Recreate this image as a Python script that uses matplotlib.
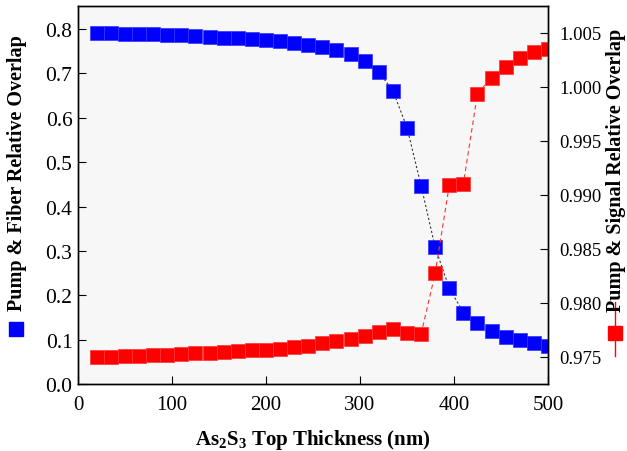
import matplotlib
matplotlib.use('Agg')
import matplotlib.pyplot as plt
from matplotlib.lines import Line2D
import numpy as np

thickness = [20, 35, 50, 65, 80, 95, 110, 125, 140, 155, 170, 185, 200, 215, 230, 245,
             260, 275, 290, 305, 320, 335, 350, 365, 380, 395, 410, 425, 440, 455, 470, 485, 500]
pump_fiber = [0.792, 0.791, 0.790, 0.789, 0.788, 0.787, 0.786, 0.785, 0.783, 0.781, 0.779,
              0.777, 0.775, 0.772, 0.769, 0.765, 0.760, 0.752, 0.743, 0.727, 0.703, 0.661,
              0.578, 0.447, 0.308, 0.216, 0.161, 0.137, 0.120, 0.107, 0.099, 0.092, 0.086]
pump_signal = [0.97494, 0.97497, 0.97502, 0.97507, 0.97512, 0.97518, 0.97524, 0.97530,
               0.97536, 0.97543, 0.97550, 0.97558, 0.97566, 0.97576, 0.97588, 0.97602,
               0.97627, 0.97643, 0.97664, 0.97694, 0.97726, 0.97757, 0.97720, 0.97710,
               0.98275, 0.99090, 0.99105, 0.99939, 1.00087, 1.00189, 1.00272, 1.00328, 1.00356]

plt.rcParams['font.family'] = 'Liberation Serif'
plt.rcParams['mathtext.fontset'] = 'custom'
plt.rcParams['mathtext.rm'] = 'Liberation Serif'
plt.rcParams['mathtext.bf'] = 'Liberation Serif:bold'

fig = plt.figure(figsize=(6.27, 4.52), dpi=100)
ax = fig.add_axes([0.1244, 0.1482, 0.7496, 0.8363])
ax.set_facecolor('#f7f7f7')
ax2 = ax.twinx()

ax.plot(thickness, pump_fiber, color='#333333', ls=(0, (2, 2)), lw=0.8,
        marker='s', ms=10, mfc='#0000ff', mec='#3333ff', mew=0.5, zorder=3)
ax2.plot(thickness, pump_signal, color='#ff3333', ls=(0, (4, 3)), lw=0.8,
         marker='s', ms=10, mfc='#ff0000', mec='#ff3333', mew=0.5)

ax.set_xlim(0, 500)
ax.set_ylim(0, 0.852)
ax2.set_ylim(0.97247, 1.0075)
ax.set_xticks([0, 100, 200, 300, 400, 500])
ax.set_yticks(np.arange(0, 0.81, 0.1))
ax.set_yticklabels(['%.1f' % v for v in np.arange(0, 0.81, 0.1)])
ax2.set_yticks([0.975, 0.980, 0.985, 0.990, 0.995, 1.000, 1.005])
ax2.set_yticklabels(['0.975', '0.980', '0.985', '0.990', '0.995', '1.000', '1.005'])

ax.tick_params(axis='y', direction='in', length=6, labelsize=15.5, pad=4)
ax.tick_params(axis='x', direction='in', length=6, labelsize=15, pad=8)
ax2.tick_params(axis='y', direction='in', length=6, labelsize=13.5, pad=8)
for a in (ax, ax2):
    for s in a.spines.values():
        s.set_linewidth(1.0)

ax.set_xlabel(r'As$_\mathbf{2}$S$_\mathbf{3}$ Top Thickness (nm)', fontsize=15,
              fontweight='bold', labelpad=9)

fig.text(17 / 627, 1 - 173 / 452, 'Pump & Fiber Relative Overlap', rotation=90,
         ha='center', va='center', fontsize=14.5, fontweight='bold')
fig.text(616 / 627, 1 - 170 / 452, 'Pump & Signal Relative Overlap', rotation=90,
         ha='center', va='center', fontsize=14.5, fontweight='bold')

# legend symbols next to the axis titles
fig.add_artist(Line2D([16 / 627], [1 - 330 / 452], marker='s', ms=10, color='#0000ff',
                      ls='none', transform=fig.transFigure))
fig.add_artist(Line2D([615 / 627, 615 / 627], [1 - 303 / 452, 1 - 357 / 452],
                      color='#ff0000', lw=1, transform=fig.transFigure))
fig.add_artist(Line2D([615 / 627], [1 - 334 / 452], marker='s', ms=10, color='#ff0000',
                      ls='none', transform=fig.transFigure))

fig.savefig('out.png', dpi=100)
